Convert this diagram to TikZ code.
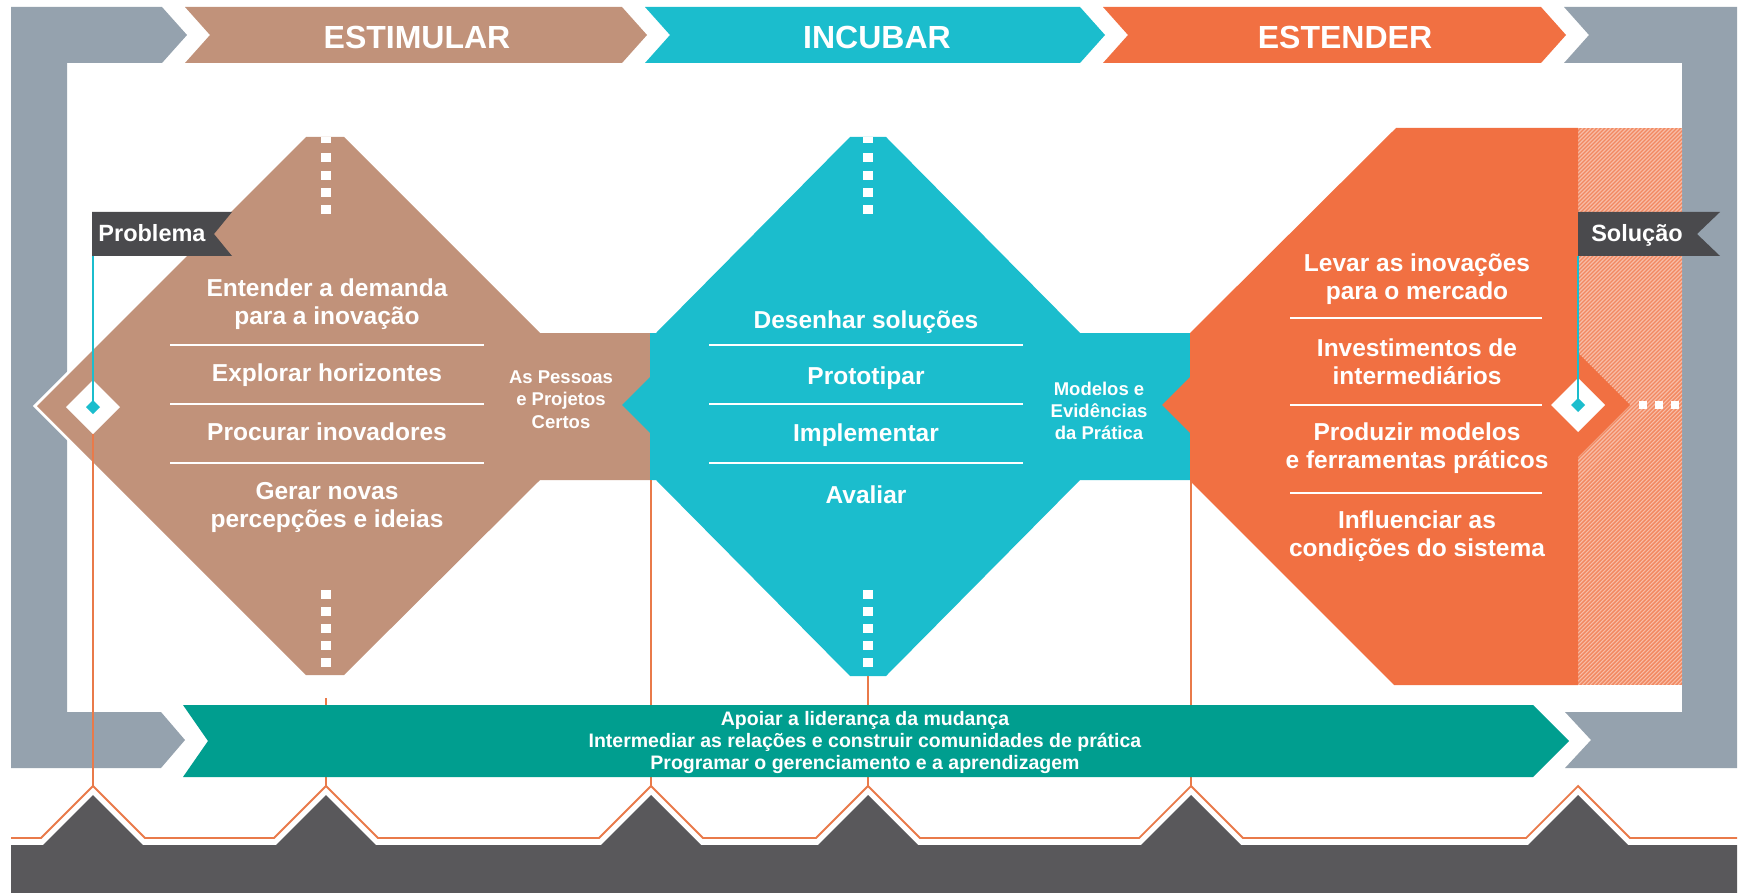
\documentclass[tikz,border=0pt]{standalone}
\usepackage{fontspec}
\setmainfont{Liberation Sans}
\usetikzlibrary{shapes.geometric}
\definecolor{graybr}{HTML}{95A2AE}
\definecolor{brownc}{HTML}{C1927A}
\definecolor{tealc}{HTML}{1BBDCD}
\definecolor{orangec}{HTML}{F17042}
\definecolor{hatchc}{HTML}{F28860}
\definecolor{greenc}{HTML}{009E8F}
\definecolor{darkc}{HTML}{59585B}
\definecolor{flagc}{HTML}{4A4A4D}
\definecolor{linec}{HTML}{E97A4A}
\begin{document}
\begin{tikzpicture}[x=1pt,y=-1pt,
  every node/.style={inner sep=0pt,outer sep=0pt,text=white},
  ttl/.style={font=\fontsize{32}{38}\selectfont\bfseries,anchor=base},
  itm/.style={font=\fontsize{24.5}{28}\selectfont\bfseries,anchor=base},
  lbl/.style={font=\fontsize{18.5}{22}\selectfont\bfseries,anchor=base},
  flagtxt/.style={font=\fontsize{23.5}{28}\selectfont\bfseries,anchor=base},
  bandtxt/.style={font=\fontsize{19.5}{22}\selectfont\bfseries,anchor=base},
  sepline/.style={draw=white,line width=2.6pt},
  vline/.style={draw=linec,line width=1.8pt},
  tline/.style={draw=tealc,line width=2pt},
  mkdiam/.style={diamond,aspect=1,minimum size=54pt,fill=white},
  tdot/.style={diamond,aspect=1,minimum size=14pt,fill=tealc},
  sq/.style={fill=white},
]
\useasboundingbox (0,0) rectangle (1744,893);
\fill[white] (0,0) rectangle (1744,893);

% gray brackets
\fill[graybr] (11,7) -- (162,7) -- (187,35) -- (162,63) -- (67,63) -- (67,712) -- (161,712) -- (185,740) -- (161,768) -- (11,768) -- cycle;
\fill[graybr] (1564,7) -- (1737,7) -- (1737,768) -- (1565,768) -- (1591,740) -- (1565,712) -- (1682,712) -- (1682,63) -- (1564,63) -- (1589,35) -- cycle;

% top band
\fill[brownc] (185,7) -- (622,7) -- (647,35) -- (622,63) -- (185,63) -- (210,35) -- cycle;
\fill[tealc] (645,7) -- (1080,7) -- (1105,35) -- (1080,63) -- (645,63) -- (670,35) -- cycle;
\fill[orangec] (1103,7) -- (1541,7) -- (1566,35) -- (1541,63) -- (1103,63) -- (1128,35) -- cycle;
\node[ttl] (hEst) at (417,49) {ESTIMULAR};
\node[ttl] (hInc) at (877,49) {INCUBAR};
\node[ttl] (hExt) at (1345,49) {ESTENDER};

% brown diamond
\draw[white,line width=6pt] (306,137) -- (37,406) -- (306,675);
\fill[brownc] (306,137) -- (344,137) -- (540,333) -- (650,333) -- (650,480) -- (540,480) -- (344,675) -- (306,675) -- (37,406) -- cycle;

% teal diamond
\fill[tealc] (850,137) -- (886,137) -- (1080,333) -- (1190,333) -- (1190,480) -- (1080,480) -- (886,676) -- (850,676) -- (656,480) -- (650,480) -- (650,433) -- (622,405) -- (650,377) -- (650,333) -- (656,333) -- cycle;

% orange shape with hatched strip
\begin{scope}
\clip (1578,128) rectangle (1682,685);
\fill[hatchc] (1578,128) rectangle (1682,685);
\foreach \s in {1018,1022,...,1690} \draw[white,opacity=0.45,line width=1.1pt] (\s,685) -- ++(557,-557);
\end{scope}
\fill[orangec] (1396,128) -- (1578,128) -- (1578,353) -- (1630,405) -- (1578,457) -- (1578,685) -- (1394,685) -- (1190,481) -- (1190,433) -- (1162,405) -- (1190,377) -- (1190,333) -- cycle;

% dashes
\fill[sq] (321,137) rectangle ++(10,6);
\fill[sq] (863,137) rectangle ++(10,6);
\foreach \yy in {153,171,188,205,590,607,624,641,658} {
  \fill[sq] (321,\yy) rectangle ++(10,9);
  \fill[sq] (863,\yy) rectangle ++(10,9);
}
\foreach \xx in {1639,1655,1671} \fill[sq] (\xx,401) rectangle ++(8,8);

% brown texts
\node[itm] (b1a) at (327,296) {Entender a demanda};
\node[itm] (b1b) at (327,324) {para a inovação};
\draw[sepline] (170,345) -- (484,345);
\node[itm] (b2) at (327,381.5) {Explorar horizontes};
\draw[sepline] (170,404) -- (484,404);
\node[itm] (b3) at (327,440) {Procurar inovadores};
\draw[sepline] (170,463) -- (484,463);
\node[itm] (b4a) at (327,499) {Gerar novas};
\node[itm] (b4b) at (327,527) {percepções e ideias};

% teal texts
\node[itm] (c1) at (866,328) {Desenhar soluções};
\draw[sepline] (709,345) -- (1023,345);
\node[itm] (c2) at (866,384) {Prototipar};
\draw[sepline] (709,404) -- (1023,404);
\node[itm] (c3) at (866,441) {Implementar};
\draw[sepline] (709,463) -- (1023,463);
\node[itm] (c4) at (866,503) {Avaliar};

% orange texts
\node[itm] (o1a) at (1417,271) {Levar as inovações};
\node[itm] (o1b) at (1417,299) {para o mercado};
\draw[sepline] (1290,318) -- (1542,318);
\node[itm] (o2a) at (1417,356) {Investimentos de};
\node[itm] (o2b) at (1417,384) {intermediários};
\draw[sepline] (1290,405) -- (1542,405);
\node[itm] (o3a) at (1417,440) {Produzir modelos};
\node[itm] (o3b) at (1417,468) {e ferramentas práticos};
\draw[sepline] (1290,493) -- (1542,493);
\node[itm] (o4a) at (1417,528) {Influenciar as};
\node[itm] (o4b) at (1417,556) {condições do sistema};

% junction labels
\node[lbl] (p1) at (561,383) {As Pessoas};
\node[lbl] (p2) at (561,405) {e Projetos};
\node[lbl] (p3) at (561,428) {Certos};
\node[lbl] (m1) at (1099,395) {Modelos e};
\node[lbl] (m2) at (1099,417) {Evidências};
\node[lbl] (m3) at (1099,439) {da Prática};

% peak coordinates
\coordinate (pk1) at (93,786);
\coordinate (pk2) at (326,786);
\coordinate (pk3) at (651,786);
\coordinate (pk4) at (868,786);
\coordinate (pk5) at (1191,786);
\coordinate (pk6) at (1578,786);
\coordinate (top2) at (326,698);
\coordinate (top3) at (651,480);
\coordinate (top4) at (868,676);
\coordinate (top5) at (1191,481);

% markers
\node[mkdiam] (pmark) at (93,407) {};
\node[mkdiam] (smark) at (1578,405) {};
\draw[vline] (pmark.south) -- (pk1);
\draw[vline] (top2) -- (pk2);
\draw[vline] (top3) -- (pk3);
\draw[vline] (top4) -- (pk4);
\draw[vline] (top5) -- (pk5);

% flags
\fill[flagc] (92,212) -- (232,212) -- (214,234) -- (232,256) -- (92,256) -- cycle;
\node[flagtxt] (prob) at (152,242) {Problema};
\fill[flagc] (1578,212) -- (1720,212) -- (1697,234) -- (1720,256) -- (1578,256) -- cycle;
\node[flagtxt] (sol) at (1637,242) {Solução};
\coordinate (pflag) at (93,256);
\coordinate (sflag) at (1578,256);
\node[tdot] (pdot) at (93,407) {};
\node[tdot] (sdot) at (1578,405) {};
\draw[tline] (pflag) -- (pdot.center);
\draw[tline] (sflag) -- (sdot.center);

% green band
\fill[greenc] (183,705) -- (1533,705) -- (1569,741) -- (1533,777) -- (183,777) -- (208,741) -- cycle;
\node[bandtxt] (g1) at (865,725) {Apoiar a liderança da mudança};
\node[bandtxt] (g2) at (865,747) {Intermediar as relações e construir comunidades de prática};
\node[bandtxt] (g3) at (865,769) {Programar o gerenciamento e a aprendizagem};

% bottom dark band and zigzag line
\fill[darkc] (11,845) -- (43,845) -- (93,795) -- (143,845) -- (276,845) -- (326,795) -- (376,845) -- (601,845) -- (651,795) -- (701,845) -- (818,845) -- (868,795) -- (918,845) -- (1141,845) -- (1191,795) -- (1241,845) -- (1528,845) -- (1578,795) -- (1628,845) -- (1737,845) -- (1737,893) -- (11,893) -- cycle;
\draw[vline] (11,838) -- (41,838) -- (pk1) -- (145,838) -- (274,838) -- (pk2) -- (378,838) -- (599,838) -- (pk3) -- (703,838) -- (816,838) -- (pk4) -- (920,838) -- (1139,838) -- (pk5) -- (1243,838) -- (1526,838) -- (pk6) -- (1630,838) -- (1737,838);
\end{tikzpicture}
\end{document}
